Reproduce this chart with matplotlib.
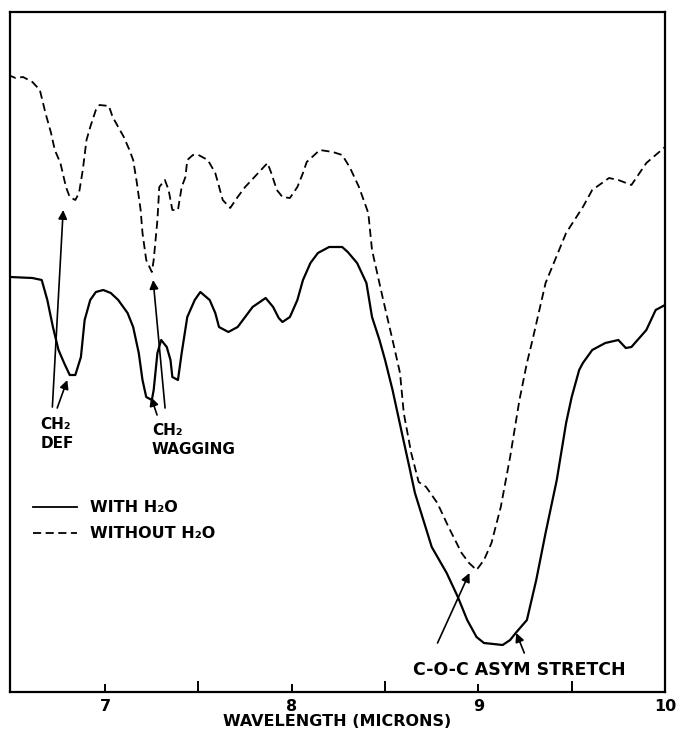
import matplotlib
matplotlib.use("Agg")
import matplotlib.pyplot as plt

# Infrarot-Spektrum: mit / ohne H2O (relative Transmission)

# ---- ohne H2O (gestrichelt) ----
wl_dry = [6.48, 6.52, 6.56, 6.58, 6.61, 6.65, 6.68, 6.71, 6.73, 6.76,
          6.79, 6.81, 6.84, 6.86, 6.88, 6.90, 6.92, 6.95, 6.97, 7.02,
          7.04, 7.07, 7.10, 7.13, 7.15, 7.17, 7.19, 7.20, 7.22, 7.25,
          7.26, 7.28, 7.29, 7.32, 7.34, 7.36, 7.39, 7.41, 7.43, 7.44,
          7.47, 7.50, 7.55, 7.59, 7.63, 7.67, 7.71, 7.75, 7.81, 7.87,
          7.89, 7.92, 7.95, 7.99, 8.03, 8.06, 8.08, 8.15, 8.22, 8.27,
          8.31, 8.36, 8.41, 8.43, 8.49, 8.54, 8.58, 8.60, 8.64, 8.68,
          8.72, 8.78, 8.84, 8.91, 8.95, 8.99, 9.03, 9.07, 9.12, 9.17,
          9.22, 9.26, 9.29, 9.36, 9.47, 9.56, 9.61, 9.70, 9.75, 9.82,
          9.90, 10.00]
t_dry = [61.7, 61.4, 61.5, 61.3, 61.0, 60.2, 57.9, 55.9, 54.2, 52.9,
         50.5, 49.5, 49.2, 49.9, 52.2, 55.2, 56.5, 58.2, 58.7, 58.6,
         57.5, 56.5, 55.5, 54.2, 53.2, 50.9, 48.2, 45.9, 43.2, 42.0,
         43.2, 47.2, 50.5, 51.2, 50.2, 48.2, 48.2, 50.5, 51.5, 53.2,
         53.7, 53.7, 53.2, 51.9, 49.2, 48.4, 49.5, 50.5, 51.7, 52.9,
         51.9, 50.2, 49.5, 49.4, 50.5, 51.9, 53.0, 54.2, 54.0, 53.7,
         52.5, 50.5, 47.9, 44.2, 39.2, 35.2, 31.9, 27.9, 23.9, 21.0,
         20.5, 18.9, 16.5, 13.9, 12.9, 12.2, 13.2, 14.9, 18.5, 23.5,
         29.2, 32.9, 35.2, 40.9, 45.9, 48.5, 50.2, 51.4, 51.2, 50.7,
         52.9, 54.5]

# ---- mit H2O (durchgezogen) ----
wl_wet = [6.49, 6.61, 6.66, 6.69, 6.72, 6.75, 6.78, 6.81, 6.84, 6.87,
          6.89, 6.92, 6.95, 6.99, 7.03, 7.07, 7.12, 7.15, 7.18, 7.20,
          7.22, 7.25, 7.26, 7.28, 7.30, 7.33, 7.35, 7.36, 7.39, 7.41,
          7.44, 7.48, 7.51, 7.56, 7.59, 7.61, 7.66, 7.71, 7.75, 7.79,
          7.86, 7.90, 7.93, 7.95, 7.99, 8.03, 8.06, 8.10, 8.14, 8.20,
          8.27, 8.30, 8.35, 8.40, 8.43, 8.47, 8.50, 8.54, 8.59, 8.63,
          8.66, 8.70, 8.75, 8.83, 8.89, 8.94, 8.99, 9.03, 9.13, 9.17,
          9.20, 9.26, 9.31, 9.36, 9.42, 9.47, 9.50, 9.54, 9.56, 9.61,
          9.68, 9.75, 9.79, 9.82, 9.90, 9.95, 10.00]
t_wet = [41.5, 41.4, 41.2, 39.2, 36.5, 34.2, 32.9, 31.7, 31.7, 33.5,
         37.2, 39.2, 40.0, 40.2, 39.9, 39.2, 37.9, 36.5, 33.9, 31.2,
         29.5, 29.2, 30.2, 33.9, 35.2, 34.5, 33.2, 31.5, 31.2, 33.9,
         37.5, 39.2, 40.0, 39.2, 37.9, 36.5, 36.0, 36.5, 37.5, 38.5,
         39.4, 38.5, 37.4, 37.0, 37.5, 39.2, 41.2, 42.9, 43.9, 44.5,
         44.5, 44.0, 42.9, 40.9, 37.5, 35.2, 33.2, 30.2, 25.9, 22.5,
         19.9, 17.5, 14.5, 11.9, 9.5, 7.2, 5.5, 4.9, 4.7, 5.2,
         5.9, 7.2, 11.2, 15.9, 21.2, 26.9, 29.5, 32.2, 32.9, 34.2,
         34.9, 35.2, 34.4, 34.5, 36.2, 38.2, 38.7]

major_ticks = [7, 8, 9, 10]
minor_ticks = [7.5, 8.5, 9.5]
tick_labels = ["7", "8", "9", "10"]

FONT = "DejaVu Sans"

fig = plt.figure(figsize=(6.78, 7.36), dpi=100)
ax = fig.add_axes([10 / 678, 44 / 736, 655 / 678, 680 / 736])

ax.plot(wl_wet, t_wet, color="black", lw=1.6, solid_joinstyle="round")
ax.plot(wl_dry, t_dry, color="black", lw=1.3, linestyle=(0, (4.5, 2.5)))

ax.set_xlim(6.49, 10.0)
ax.set_ylim(0, 68)

# Achsen / Ticks
for s in ax.spines.values():
    s.set_linewidth(1.6)
ax.set_yticks([])
ax.set_xticks(major_ticks)
ax.set_xticklabels(tick_labels, fontsize=11.5, fontweight="bold", family=FONT)
ax.set_xticks(minor_ticks, minor=True)
ax.tick_params(axis="x", which="major", direction="in", length=6, width=1.4, pad=5)
ax.tick_params(axis="x", which="minor", direction="in", length=8, width=1.4)
ax.set_xlabel("WAVELENGTH (MICRONS)", fontsize=11.5, fontweight="bold", family=FONT, labelpad=0)

# Pfeile
arrow = dict(arrowstyle="-|>", color="black", lw=1.2, mutation_scale=13,
             shrinkA=0, shrinkB=0)
arrows = [
    ((6.717, 28.5), (6.775, 48.2)),
    ((6.743, 28.4), (6.797, 31.2)),
    ((7.321, 28.4), (7.257, 41.2)),
    ((7.278, 27.7), (7.246, 29.5)),
    ((8.781, 4.9), (8.952, 11.9)),
    ((9.246, 3.9), (9.203, 5.9)),
]
for tail, tip in arrows:
    ax.annotate("", xy=tip, xytext=tail, arrowprops=arrow)

txt = dict(fontweight="bold", family=FONT, color="black")
ax.text(6.652, 27.5, "CH\u2082\nDEF", va="top", ha="left", fontsize=11,
        linespacing=1.3, **txt)
ax.text(7.251, 26.9, "CH\u2082\nWAGGING", va="top", ha="left", fontsize=11,
        linespacing=1.3, **txt)
ax.text(8.647, 2.2, "C-O-C ASYM STRETCH", va="center", ha="left", fontsize=12.5, **txt)

# Legende (von Hand, wie im Original)
ax.plot([6.615, 6.85], [18.5, 18.5], color="black", lw=1.3)
ax.plot([6.615, 6.85], [15.9, 15.9], color="black", lw=1.3, linestyle=(0, (4.5, 2.5)))
ax.text(6.92, 18.5, "WITH H\u2082O", va="center", ha="left", fontsize=11.5, **txt)
ax.text(6.92, 15.9, "WITHOUT H\u2082O", va="center", ha="left", fontsize=11.5, **txt)

fig.savefig("out.png", dpi=100)
